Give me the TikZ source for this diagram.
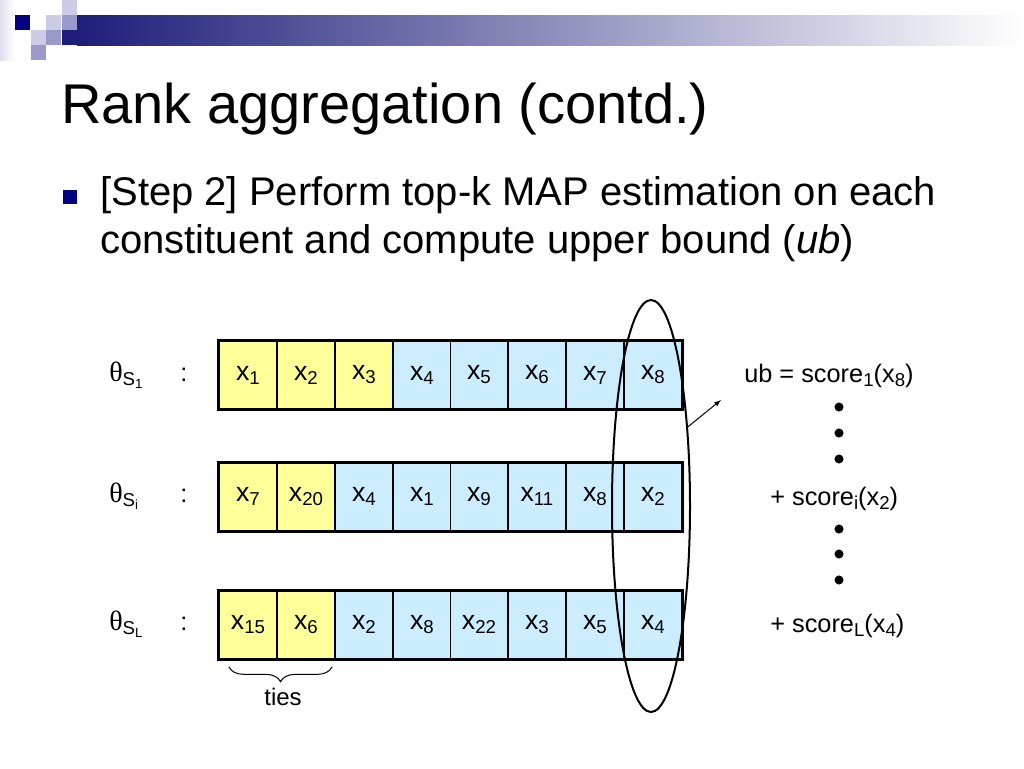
\documentclass[tikz,border=0pt]{standalone}
\usepackage{fontspec}
\setmainfont{Liberation Sans}
\newfontfamily\symbolschrift{Liberation Serif}
\usetikzlibrary{shapes.geometric,decorations.pathreplacing}
\definecolor{gelb}{HTML}{FFFF99}
\definecolor{hellblau}{HTML}{CCECFF}
\definecolor{marine}{HTML}{000080}
\definecolor{lila}{HTML}{9999CC}
\definecolor{hellila}{HTML}{CCCCE6}
\definecolor{balken}{HTML}{1E1E7A}
\newcommand{\tief}[1]{\raisebox{-3pt}{\fontsize{14}{16}\selectfont #1}}
\newcommand{\tiefer}[1]{\raisebox{-2.5pt}{\fontsize{10}{12}\selectfont #1}}

\begin{document}
\begin{tikzpicture}[x=0.75pt, y=-0.75pt, every node/.style={inner sep=0pt},
  feld/.style={draw, line width=0.75pt, minimum width=43.4pt, minimum height=51pt, font=\fontsize{20}{24}\selectfont},
  gelbfeld/.style={feld, fill=gelb},
  blaufeld/.style={feld, fill=hellblau},
  rahmen/.style={draw, line width=2.25pt},
  normal/.style={font=\fontsize{19}{23}\selectfont},
  punkt/.style={circle, fill=black, minimum size=6.8pt}]

       % Hier stehen die Zeichen-Befehle.
  \fill[white] (0,0) rectangle (1024,768);
  \useasboundingbox (0,0) rectangle (1024,768);
  \shade[left color=hellila!60, right color=white] (0,0) rectangle (15,60);
  \fill[hellila] (62,0) rectangle (77,15);
  \fill[marine] (15,15) rectangle (30,30);
  \fill[hellila] (46,15) rectangle (61,30);
  \fill[lila] (62,15) rectangle (77,30);
  \fill[hellila] (31,30) rectangle (46,45);
  \fill[lila] (46,30) rectangle (61,45);
  \fill[lila] (31,45) rectangle (46,60);
  \fill[balken] (62,30) rectangle (77,45);
  \shade[left color=balken, right color=white] (77,15) rectangle (1024,45);

  \node[anchor=base west, font=\fontsize{42}{48}\selectfont] (titel) at (61,123) {Rank aggregation (contd.)};
  \node[fill=marine, minimum size=10.5pt] (bullet) at (70,197) {};
  \node[anchor=base west, font=\fontsize{30}{36}\selectfont] (zeile1) at (100,205) {[Step 2] Perform top-k MAP estimation on each};
  \node[anchor=base west, font=\fontsize{30}{36}\selectfont] (zeile2) at (100,253) {constituent and compute upper bound (\textit{ub})};

  \node[normal, anchor=base west] (theta1) at (109,381) {{\symbolschrift\fontsize{21}{24}\selectfont θ}\tief{S\tiefer{1}}};
  \node[normal, anchor=base west] (thetai) at (109,502) {{\symbolschrift\fontsize{21}{24}\selectfont θ}\tief{S\tiefer{i}}};
  \node[normal, anchor=base west] (thetaL) at (109,630) {{\symbolschrift\fontsize{21}{24}\selectfont θ}\tief{S\tiefer{L}}};
  \node[normal, anchor=base] (doppel1) at (184,381) {:};
  \node[normal, anchor=base] (doppeli) at (184,502) {:};
  \node[normal, anchor=base] (doppelL) at (184,630) {:};

  \node[gelbfeld] (a1) at (248,375) {x\tief{1}};
  \node[gelbfeld] (a2) at (306,375) {x\tief{2}};
  \node[gelbfeld] (a3) at (364,375) {x\tief{3}};
  \node[blaufeld] (a4) at (422,375) {x\tief{4}};
  \node[blaufeld] (a5) at (479,375) {x\tief{5}};
  \node[blaufeld] (a6) at (537,375) {x\tief{6}};
  \node[blaufeld] (a7) at (595,375) {x\tief{7}};
  \node[blaufeld] (a8) at (653,375) {x\tief{8}};
  \draw[rahmen] (a1.north west) rectangle (a8.south east);

  \node[gelbfeld] (b1) at (248,496.5) {x\tief{7}};
  \node[gelbfeld] (b2) at (306,496.5) {x\tief{20}};
  \node[blaufeld] (b3) at (364,496.5) {x\tief{4}};
  \node[blaufeld] (b4) at (422,496.5) {x\tief{1}};
  \node[blaufeld] (b5) at (479,496.5) {x\tief{9}};
  \node[blaufeld] (b6) at (537,496.5) {x\tief{11}};
  \node[blaufeld] (b7) at (595,496.5) {x\tief{8}};
  \node[blaufeld] (b8) at (653,496.5) {x\tief{2}};
  \draw[rahmen] (b1.north west) rectangle (b8.south east);

  \node[gelbfeld] (c1) at (248,624.5) {x\tief{15}};
  \node[gelbfeld] (c2) at (306,624.5) {x\tief{6}};
  \node[blaufeld] (c3) at (364,624.5) {x\tief{2}};
  \node[blaufeld] (c4) at (422,624.5) {x\tief{8}};
  \node[blaufeld] (c5) at (479,624.5) {x\tief{22}};
  \node[blaufeld] (c6) at (537,624.5) {x\tief{3}};
  \node[blaufeld] (c7) at (595,624.5) {x\tief{5}};
  \node[blaufeld] (c8) at (653,624.5) {x\tief{4}};
  \draw[rahmen] (c1.north west) rectangle (c8.south east);

  \node[ellipse, draw, line width=1.5pt, minimum width=58.5pt, minimum height=309pt] (oval) at (651,506) {};
  \coordinate (pfeilende) at (721,400);
  \draw[-latex, line width=0.75pt] (oval.65) -- (pfeilende);

  \node[normal, anchor=base west] (ub) at (744,382) {ub = score\tief{1}(x\tief{8})};
  \node[normal, anchor=base west] (scorei) at (770,505) {+ score\tief{i}(x\tief{2})};
  \node[normal, anchor=base west] (scoreL) at (770,632) {+ score\tief{L}(x\tief{4})};
  \node[punkt] (d1) at (839,407) {};
  \node[punkt] (d2) at (839,433) {};
  \node[punkt] (d3) at (839,459) {};
  \node[punkt] (d4) at (839,529) {};
  \node[punkt] (d5) at (839,554) {};
  \node[punkt] (d6) at (839,580) {};

  \coordinate (klammerA) at (229,667);
  \coordinate (klammerB) at (332,667);
  \draw[decorate, decoration={brace, mirror, amplitude=11pt}, line width=0.75pt] (klammerA) -- (klammerB);
  \node[font=\fontsize{18}{22}\selectfont, anchor=base] (ties) at (283,705) {ties};

        \end{tikzpicture}
\end{document}
